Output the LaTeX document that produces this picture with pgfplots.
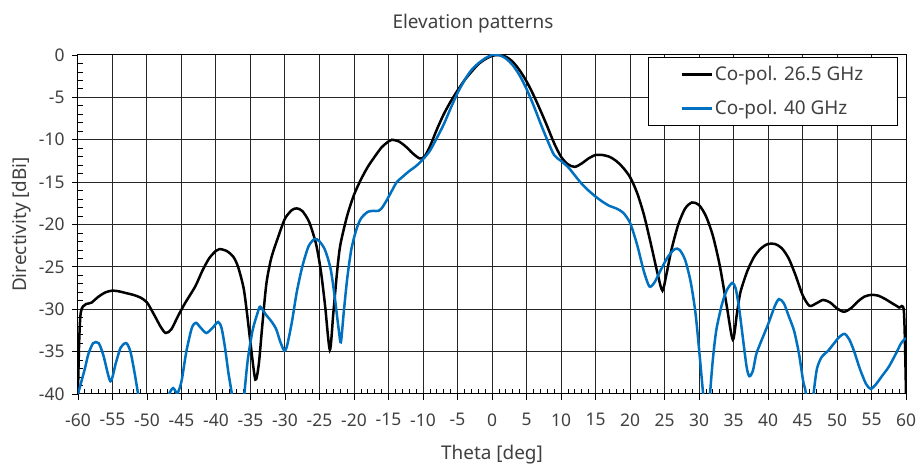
\documentclass[border=0pt]{standalone}
\usepackage{pgfplots}
\pgfplotsset{compat=1.18}
\usepackage{fontspec}
\setmainfont{Noto Sans}
\definecolor{txt}{HTML}{404040}
\definecolor{blu}{HTML}{0070C0}
\begin{document}
\begin{tikzpicture}
\begin{axis}[
  scale only axis, width=828bp, height=339bp,
  xmin=-60, xmax=60, ymin=-40, ymax=0,
  xtick={-60,-55,...,60}, ytick={-40,-35,...,0},
  minor x tick num=4, minor y tick num=4,
  xtick pos=left, ytick pos=left,
  tick align=inside, major tick length=-6bp, minor tick length=5bp,
  every tick/.style={black, line width=0.8bp},
  grid=major, major grid style={black!85, line width=1bp},
  axis line style={black, line width=1bp},
  /pgf/number format/assume math mode=true,
  tick label style={font=\fontsize{17.5}{20}\selectfont, text=txt},
  xticklabel style={yshift=-16bp},
  yticklabel style={xshift=-10bp},
  xlabel={Theta [deg]}, ylabel={Directivity [dBi]},
  title={\fontsize{19}{22}\selectfont Elevation patterns},
  label style={font=\fontsize{19}{22}\selectfont, text=txt},
  xlabel style={at={(axis description cs:0.5,-0.18)}, anchor=center},
  ylabel style={at={(axis description cs:-0.0676,0.5)}, anchor=center},
  title style={at={(axis description cs:0.477,1.076)}, anchor=center, text=txt},
  legend style={at={(rel axis cs:0.99,0.994)}, anchor=north east, draw=black, line width=1bp, fill=white,
    font=\fontsize{19}{22}\selectfont, text=txt, row sep=14bp, inner xsep=32bp, inner ysep=7bp},
  legend cell align=left,
  legend image code/.code={\draw[#1] (0cm,0cm) -- (30bp,0cm);},
  every axis plot/.append style={line width=2.5bp, smooth, tension=0.45},
]
\addplot[black] coordinates {
(-60,-40) (-59.6,-30.4) (-58,-29.2) (-57,-28.5) (-56,-28) (-55,-27.8) (-54,-27.9) (-53,-28.1) (-52,-28.3) (-51,-28.6) (-50,-29.2) (-49,-30.6) (-48,-32.1) (-47.3,-32.8) (-46.5,-32.4) (-45.5,-30.8) (-44.5,-29.3) (-43,-27.3) (-42,-25.5) (-41,-24) (-40,-23.1) (-39.5,-22.9) (-38.5,-23.1) (-37.5,-23.8) (-36.8,-25) (-36,-27.5) (-35.5,-30.5) (-35,-34) (-34.3,-38.3) (-33.8,-36.5) (-33.3,-32) (-32.7,-27) (-32,-24) (-31,-21.5) (-30,-19.3) (-29,-18.3) (-28.3,-18.1) (-27.5,-18.4) (-26.5,-19.7) (-25.5,-22.3) (-24.8,-25.5) (-24.2,-29.5) (-23.5,-34.8) (-23,-30.5) (-22.5,-26) (-22,-22.5) (-21,-19) (-20,-16.5) (-19,-14.7) (-18,-13.2) (-17,-12) (-16,-10.9) (-15,-10.2) (-14.5,-10) (-13.5,-10.2) (-12.5,-10.8) (-11.5,-11.6) (-10.5,-12.2) (-9.8,-12) (-9,-10.8) (-8,-8.8) (-7,-7) (-6,-5.5) (-5,-4.2) (-4,-3) (-3,-2) (-2,-1.1) (-1,-0.5) (0,-0.1) (1,0) (2,-0.2) (3,-0.8) (4,-1.8) (5,-3.1) (6,-4.7) (7,-6.5) (8,-8.4) (9,-10.4) (10,-12) (11,-12.9) (12,-13.2) (13,-12.8) (14,-12.2) (15,-11.8) (16,-11.8) (17,-12) (18,-12.5) (19,-13.3) (20,-14.4) (21,-16.2) (22,-18.8) (23,-22.2) (24,-25.8) (24.7,-27.8) (25.3,-25.8) (26,-23) (27,-20) (28,-18.1) (29,-17.4) (30,-17.7) (31,-19) (32,-21.3) (33,-24.8) (34,-29.5) (34.9,-33.6) (35.5,-30.5) (36,-28) (37,-25.5) (38,-23.8) (39,-22.8) (40,-22.3) (41,-22.3) (42,-22.8) (43,-24) (44,-26) (45,-28.3) (46,-29.6) (47,-29.3) (48,-28.9) (49,-29.2) (50,-29.9) (51,-30.3) (52,-29.9) (53,-29.1) (54,-28.5) (55,-28.3) (56,-28.4) (57,-28.8) (58,-29.3) (59,-29.8) (59.7,-30.3) (60,-40)
};
\addlegendentry{Co-pol. 26.5 GHz}
\addplot[blu] coordinates {
(-60,-40) (-59.5,-38.5) (-59,-37) (-58.5,-35.3) (-57.8,-34) (-57,-34) (-56.3,-35.5) (-55.3,-38.5) (-54.5,-36.3) (-53.8,-34.5) (-53,-34) (-52.4,-35) (-51.8,-37.5) (-51.3,-40) (-51,-42) (-49,-45) (-47.5,-42) (-46.8,-40) (-46.2,-39.3) (-45.6,-39.9) (-45,-38.5) (-44.3,-35) (-43.5,-32.2) (-42.9,-31.6) (-42.2,-32.2) (-41.4,-32.8) (-40.5,-32.2) (-39.7,-31.5) (-39.2,-32.2) (-38.7,-34.5) (-38.2,-37.5) (-37.7,-40) (-37.4,-42) (-36.5,-45) (-36.2,-42) (-35.9,-40) (-35.4,-36) (-34.7,-32.5) (-34,-30.5) (-33.6,-29.7) (-32.8,-30.6) (-32,-31.4) (-31.3,-32.3) (-30.7,-33.8) (-30.1,-34.9) (-29.7,-34.3) (-29,-31.5) (-28.3,-28) (-27.5,-25) (-26.6,-22.6) (-25.7,-21.7) (-25,-22) (-24.2,-23) (-23.4,-25.2) (-22.8,-28.5) (-22.2,-32.5) (-21.9,-33.9) (-21.5,-30.5) (-21,-26.5) (-20.4,-23) (-19.7,-20.7) (-19,-19.3) (-18,-18.5) (-17.2,-18.4) (-16.5,-18.4) (-16,-18.1) (-15.3,-17.2) (-14.5,-16) (-13.8,-15) (-13,-14.4) (-12,-13.7) (-11,-13.1) (-10,-12.3) (-9,-11.3) (-8,-9.8) (-7,-8.2) (-6,-6.3) (-5,-4.5) (-4,-3) (-3,-1.8) (-2,-1) (-1,-0.4) (0,0) (1,0) (2,-0.4) (3,-1.2) (4,-2.4) (5,-4) (6,-5.9) (7,-8) (8,-10) (9,-11.8) (10,-12.5) (11,-13.2) (12,-14.2) (13,-15.2) (14,-16) (15,-16.7) (16,-17.3) (17,-17.8) (18,-18.1) (19,-18.6) (20,-19.8) (21,-22.3) (22,-25.5) (22.8,-27.3) (23.5,-26.9) (24.5,-25.3) (25.5,-23.8) (26.5,-22.9) (27.2,-23) (28,-24.2) (28.8,-26.8) (29.5,-30.5) (30.1,-35.5) (30.6,-40) (31.2,-45) (31.6,-40) (32,-36) (32.5,-32.5) (33.3,-29.5) (34,-27.8) (34.8,-26.9) (35.3,-27.5) (35.8,-29.8) (36.3,-33) (36.9,-36.8) (37.3,-37.9) (37.8,-37.3) (38.3,-35.3) (39,-33.8) (40,-31.8) (41,-29.6) (41.6,-28.8) (42.3,-29.3) (43,-30.8) (43.8,-32.6) (44.5,-35.3) (45.1,-38.5) (45.5,-40) (46,-45) (46.6,-40) (47.1,-37) (47.8,-35.6) (48.6,-35) (49.5,-34.1) (50.3,-33.3) (51.1,-32.9) (51.8,-33.6) (52.5,-35) (53.3,-37) (54.2,-38.8) (54.9,-39.4) (55.7,-38.8) (56.5,-37.9) (57.5,-36.8) (58.5,-35.3) (59.3,-34) (60,-33.4)
};
\addlegendentry{Co-pol. 40 GHz}
\end{axis}
\pgfresetboundingbox
\path[use as bounding box] (current axis.south west) ++(-78bp,-71bp) rectangle ++(918bp,465bp);
\end{tikzpicture}
\end{document}
